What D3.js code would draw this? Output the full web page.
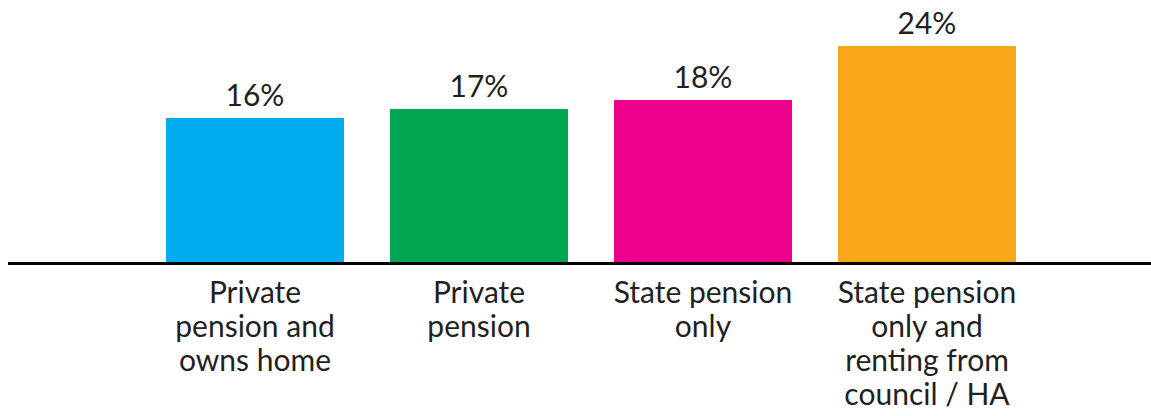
<!DOCTYPE html>
<html>
<head>
<meta charset="utf-8">
<script src="https://cdn.jsdelivr.net/npm/d3@7"></script>
<style>
  html, body { margin: 0; padding: 0; background: #fff; }
  svg { display: block; }
</style>
</head>
<body>
<svg id="chart" width="1151" height="416"></svg>
<script>
// Share of each pensioner group
const categories = [
  ["Private", "pension and", "owns home"],
  ["Private", "pension"],
  ["State pension", "only"],
  ["State pension", "only and", "renting from", "council / HA"]
];
const values = [16, 17, 18, 24];
const colors = ["#00AEEF", "#00A551", "#EC008C", "#F9A61A"];

const svg = d3.select("#chart");
const baseY = 262;
const ids = categories.map((_, i) => i);

const x = d3.scaleBand()
  .domain(ids)
  .range([143, 1039])
  .paddingInner(46 / 224)
  .paddingOuter(23 / 224);

const y = d3.scaleLinear()
  .domain([0, 24])
  .range([baseY, 46]);

// bars
svg.append("g")
  .selectAll("rect")
  .data(values)
  .join("rect")
  .attr("x", (d, i) => x(i))
  .attr("y", d => y(d))
  .attr("width", x.bandwidth())
  .attr("height", d => baseY - y(d))
  .attr("fill", (d, i) => colors[i]);

// value labels
svg.append("g")
  .selectAll("text")
  .data(values)
  .join("text")
  .attr("x", (d, i) => x(i) + x.bandwidth() / 2)
  .attr("y", d => y(d) - 12)
  .attr("text-anchor", "middle")
  .attr("font-family", "Lato, sans-serif")
  .attr("font-size", 30)
  .attr("fill", "#231F20")
  .text(d => d + "%");

// baseline axis
const axis = d3.axisBottom(x).tickSize(0).tickFormat(() => "");
const gAxis = svg.append("g")
  .attr("transform", `translate(0,${baseY + 1.5})`)
  .call(axis);
gAxis.select(".domain").remove();
gAxis.append("line")
  .attr("x1", 8).attr("x2", 1151)
  .attr("stroke", "#000").attr("stroke-width", 3);

// category labels
const cat = svg.append("g")
  .selectAll("text")
  .data(categories)
  .join("text")
  .attr("text-anchor", "middle")
  .attr("font-family", "Lato, sans-serif")
  .attr("font-size", 30)
  .attr("fill", "#231F20");
cat.each(function(lines, i) {
  d3.select(this).selectAll("tspan")
    .data(lines)
    .join("tspan")
    .attr("x", x(i) + x.bandwidth() / 2)
    .attr("y", (d, j) => 303 + j * 34)
    .text(d => d);
});
</script>
</body>
</html>
